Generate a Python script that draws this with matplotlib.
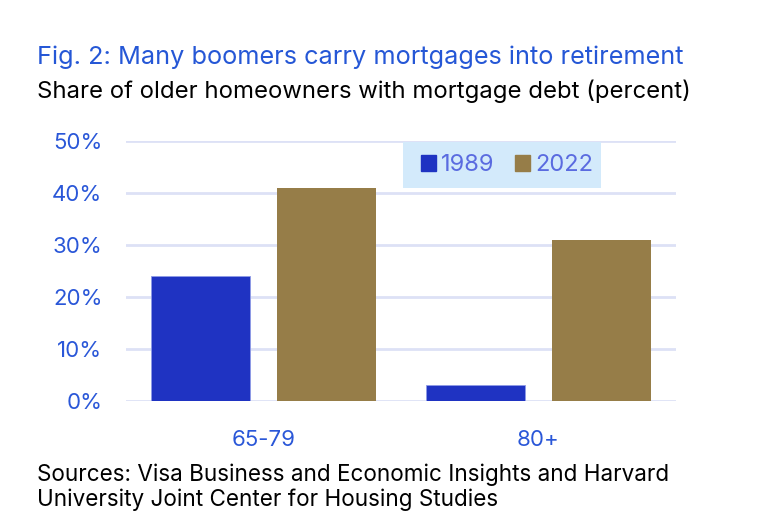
import numpy as np
import matplotlib.pyplot as plt
from matplotlib.patches import Patch, Rectangle

plt.rcParams['font.family'] = ['Inter', 'DejaVu Sans']

# data
groups = ["65-79", "80+"]
years = ["1989", "2022"]
share_1989 = [24, 3]
share_2022 = [41, 31]
yticks = [0, 10, 20, 30, 40, 50]

blue = "#1F33C2"
gold = "#967D48"
tick_col = "#2A57D8"
grid_col = "#DDE1F6"

fig = plt.figure(figsize=(7.66, 5.2), dpi=100)
# axes placed in pixel terms: x 126..676, y 141..401 (of 520)
ax = fig.add_axes([126 / 766, 1 - 401 / 520, 550 / 766, 260 / 520])

x = np.arange(len(groups))
w = 0.36
off = 0.229
ax.bar(x - off, share_1989, w, color=blue, edgecolor="#8F9BE6", linewidth=0.6, zorder=3)
ax.bar(x + off, share_2022, w, color=gold, zorder=3)

ax.set_xlim(-0.5, 1.5)
ax.set_ylim(0, 50)
ax.set_yticks(yticks)
ax.set_yticklabels([f"{t}%" for t in yticks])
ax.set_xticks(x)
ax.set_xticklabels(groups)
ax.tick_params(axis="y", length=0, pad=17, labelsize=16, labelcolor=tick_col)
ax.tick_params(axis="x", length=0, pad=21, labelsize=16, labelcolor=tick_col)
ax.grid(axis="y", color=grid_col, linewidth=2, zorder=0)
for s in ax.spines.values():
    s.set_visible(False)
ax.set_axisbelow(True)

# legend background box
ax.add_patch(Rectangle((0.5036, 0.819), 0.36, 0.177, transform=ax.transAxes,
                       facecolor="#D3EAFB", edgecolor="none", zorder=4))
handles = [Patch(color=blue), Patch(color=gold)]
leg = ax.legend(handles, years, loc="center", bbox_to_anchor=(0.6927, 0.9075),
                ncol=2, frameon=False, fontsize=17, handlelength=0.64, handleheight=0.64,
                handletextpad=0.2, columnspacing=0.9, borderpad=0,
                labelcolor="#5A6BE0", borderaxespad=0)
leg.set_zorder(5)

fig.text(37 / 766, 1 - 64 / 520, "Fig. 2: Many boomers carry mortgages into retirement",
         fontsize=18.2, color="#2557D6", va="baseline")
fig.text(37 / 766, 1 - 98 / 520, "Share of older homeowners with mortgage debt (percent)",
         fontsize=17.2, color="black", va="baseline")
fig.text(37 / 766, 1 - 481 / 520, "Sources: Visa Business and Economic Insights and Harvard",
         fontsize=16.2, color="black", va="baseline")
fig.text(37 / 766, 1 - 506 / 520, "University Joint Center for Housing Studies",
         fontsize=16.2, color="black", va="baseline")

fig.savefig("out.png", dpi=100, facecolor="white")
